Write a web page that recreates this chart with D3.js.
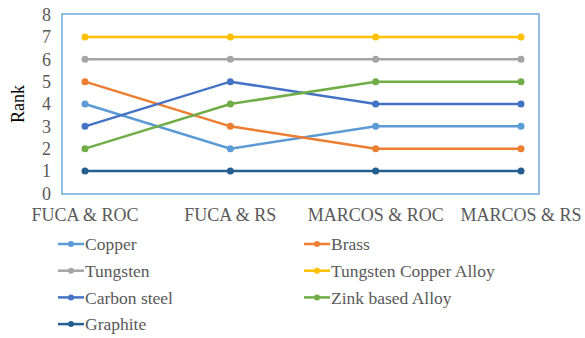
<!DOCTYPE html>
<html>
<head>
<meta charset="utf-8">
<script src="https://cdn.jsdelivr.net/npm/d3@7"></script>
<style>
  body { margin: 0; background: #fff; }
</style>
</head>
<body>
<div id="chart"></div>
<script>
const categories = ["FUCA & ROC", "FUCA & RS", "MARCOS & ROC", "MARCOS & RS"];
const yTicks = [0, 1, 2, 3, 4, 5, 6, 7, 8];

const copper = [4, 2, 3, 3];
const brass = [5, 3, 2, 2];
const tungsten = [6, 6, 6, 6];
const tungstenCopper = [7, 7, 7, 7];
const carbonSteel = [3, 5, 4, 4];
const zinkAlloy = [2, 4, 5, 5];
const graphite = [1, 1, 1, 1];

const series = [
    { name: "Copper", values: copper, color: "#5B9BD5" },
    { name: "Brass", values: brass, color: "#ED7D31" },
    { name: "Tungsten", values: tungsten, color: "#A5A5A5" },
    { name: "Tungsten Copper Alloy", values: tungstenCopper, color: "#FFC000" },
    { name: "Carbon steel", values: carbonSteel, color: "#4472C4" },
    { name: "Zink based Alloy", values: zinkAlloy, color: "#70AD47" },
    { name: "Graphite", values: graphite, color: "#255E91" }
];

const W = 585, H = 338;
const box = { left: 62, top: 14, right: 539, bottom: 194 };
const serif = "'Liberation Serif'";

const svg = d3.select("#chart").append("svg")
    .attr("width", W)
    .attr("height", H);

const x = d3.scalePoint()
    .domain(categories)
    .range([85, 521]);

const y = d3.scaleLinear()
    .domain([0, 8])
    .range([box.bottom - 0.7, box.top + 0.7]);

// plot frame
svg.append("rect")
    .attr("x", box.left)
    .attr("y", box.top)
    .attr("width", box.right - box.left)
    .attr("height", box.bottom - box.top)
    .attr("fill", "none")
    .attr("stroke", "#6FA8DC")
    .attr("stroke-width", 1.5);

// y tick labels
svg.selectAll(".ylab")
    .data(yTicks)
    .enter().append("text")
    .attr("class", "ylab")
    .attr("x", box.left - 11)
    .attr("y", d => y(d))
    .attr("dy", "0.35em")
    .attr("text-anchor", "end")
    .style("font-family", serif)
    .style("font-size", "18px")
    .attr("fill", "#595959")
    .text(d3.format("d"));

// x tick labels
const xLabels = svg.selectAll(".xlab")
    .data(categories)
    .enter().append("text")
    .attr("class", "xlab")
    .attr("x", d => x(d))
    .attr("y", box.bottom + 14)
    .attr("dy", "0.71em")
    .attr("text-anchor", "middle")
    .style("font-family", serif)
    .style("font-size", "18px")
    .attr("fill", "#595959")
    .text(d => d);

// keep the last label inside the picture, then push earlier ones left so they don't touch
const nodes = xLabels.nodes();
let limit = W - 2;
for (let i = nodes.length - 1; i >= 0; i--) {
    const bb = nodes[i].getBBox();
    const right = bb.x + bb.width;
    let cx = +nodes[i].getAttribute("x");
    if (right > limit) cx -= right - limit;
    nodes[i].setAttribute("x", cx);
    limit = cx - bb.width / 2 - 9;
}

svg.append("text")
    .attr("transform", "rotate(-90)")
    .attr("x", -104)
    .attr("y", 24)
    .attr("text-anchor", "middle")
    .style("font-family", serif)
    .style("font-size", "18px")
    .attr("fill", "#000")
    .text("Rank");

// lines and markers
const line = d3.line()
    .x((d, i) => x(categories[i]))
    .y(d => y(d));

series.forEach(s => {
    svg.append("path")
        .datum(s.values)
        .attr("d", line)
        .attr("fill", "none")
        .attr("stroke", s.color)
        .attr("stroke-width", 2.5)
        .attr("stroke-linecap", "round");
    svg.selectAll(null)
        .data(s.values)
        .enter().append("circle")
        .attr("cx", (d, i) => x(categories[i]))
        .attr("cy", d => y(d))
        .attr("r", 3.5)
        .attr("fill", s.color);
});

// legend
series.forEach((s, i) => {
    const lx = i % 2 === 0 ? 58 : 304;
    const ly = 244 + Math.floor(i / 2) * 26.7;
    svg.append("line")
        .attr("x1", lx).attr("x2", lx + 26)
        .attr("y1", ly).attr("y2", ly)
        .attr("stroke", s.color)
        .attr("stroke-width", 2.5);
    svg.append("circle")
        .attr("cx", lx + 13).attr("cy", ly).attr("r", 3)
        .attr("fill", s.color);
    svg.append("text")
        .attr("x", lx + 27)
        .attr("y", ly)
        .attr("dy", "0.35em")
        .style("font-family", serif)
        .style("font-size", "17.5px")
        .attr("fill", "#595959")
        .text(s.name);
});
</script>
</body>
</html>
